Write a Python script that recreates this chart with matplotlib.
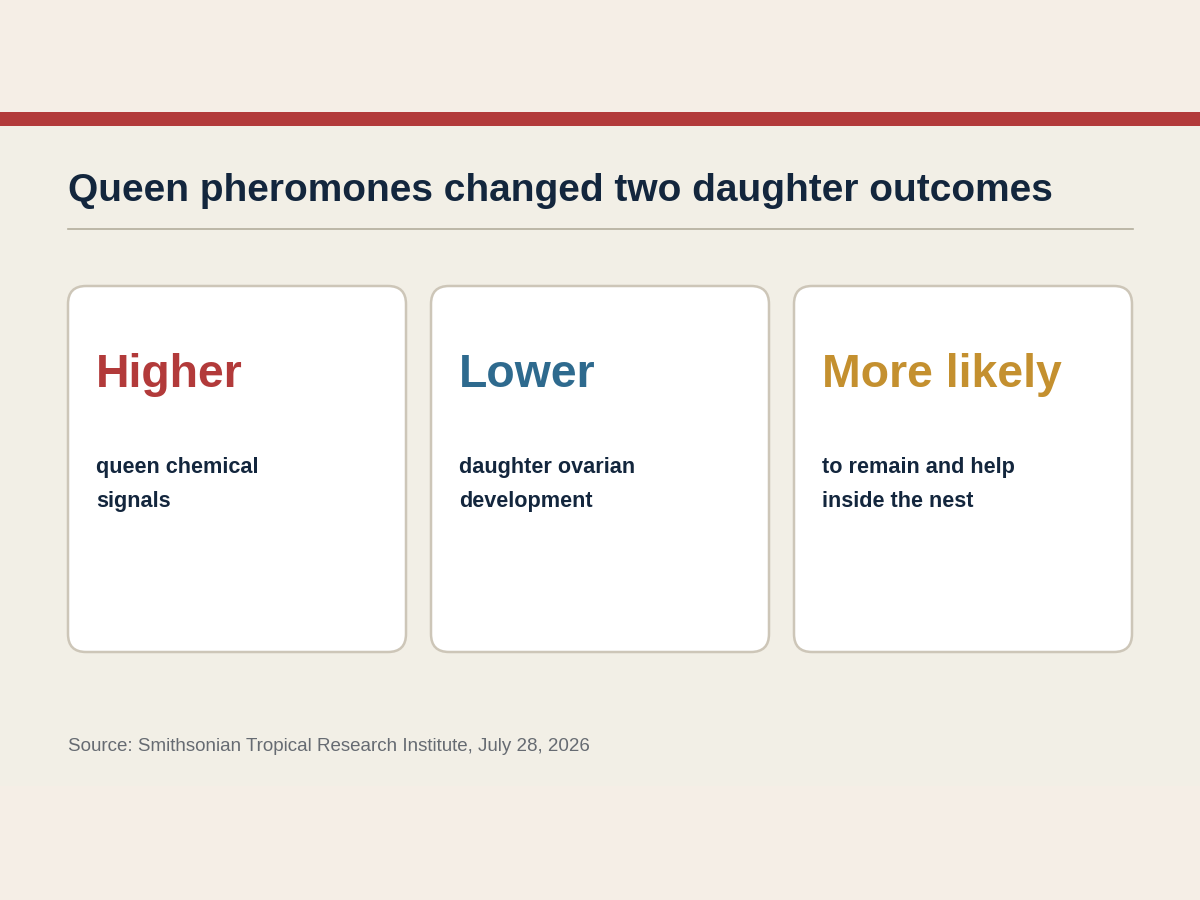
import matplotlib.pyplot as plt
from matplotlib.patches import FancyBboxPatch, Rectangle

# Textos do painel
titulo = "Queen pheromones changed two daughter outcomes"
fonte = "Source: Smithsonian Tropical Research Institute, July 28, 2026"
destaques = ["Higher", "Lower", "More likely"]
descricoes = [
    ["queen chemical", "signals"],
    ["daughter ovarian", "development"],
    ["to remain and help", "inside the nest"],
]
cores = ["#b23a3a", "#2e6a8e", "#c4902f"]

plt.rcParams['font.family'] = ['Liberation Sans', 'DejaVu Sans']

fig = plt.figure(figsize=(12, 9), dpi=100)
fig.patch.set_facecolor("#f5eee6")
ax = fig.add_axes([0, 0, 1, 1])
ax.set_xlim(0, 1200)
ax.set_ylim(900, 0)
ax.axis("off")

# Fundo principal e faixa vermelha
ax.add_patch(Rectangle((0, 126), 1200, 660, facecolor="#f2efe6", edgecolor="none"))
ax.add_patch(Rectangle((0, 112), 1200, 14, facecolor="#b23a3a", edgecolor="none"))

# Título e linha
ax.text(68, 201, titulo, fontsize=28, fontweight="bold", color="#13263d", va="baseline")
ax.plot([68, 1133], [229, 229], color="#b3ae9c", lw=1.2)

# Cartões
x0, larg, gap = 68, 338, 25
for i, (d, desc, cor) in enumerate(zip(destaques, descricoes, cores)):
    x = x0 + i * (larg + gap)
    ax.add_patch(FancyBboxPatch((x, 286), larg, 366,
                                boxstyle="round,pad=0,rounding_size=18",
                                facecolor="white", edgecolor="#cdc6b8", lw=1.8))
    ax.text(x + 28, 387, d, fontsize=33.4, fontweight="bold", color=cor, va="baseline")
    for j, linha in enumerate(desc):
        ax.text(x + 28, 473 + j * 34, linha, fontsize=15.6, fontweight="bold",
                color="#13263d", va="baseline")

ax.text(68, 751, fonte, fontsize=13.5, color="#666b72", va="baseline")

fig.savefig("out.png", dpi=100, facecolor=fig.get_facecolor())
